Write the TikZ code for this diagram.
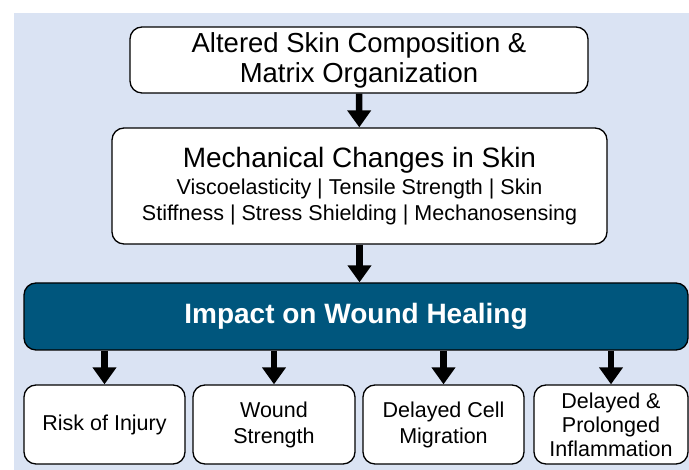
\documentclass[tikz,border=0pt]{standalone}
\usepackage{fontspec}
\setmainfont{Liberation Sans}
\usetikzlibrary{arrows.meta}
\definecolor{bgblue}{HTML}{DAE3F3}
\definecolor{bandblue}{HTML}{00567D}
\newcommand{\headfont}{\fontsize{28}{31}\selectfont}
\newcommand{\subfont}{\fontsize{21.5}{26}\selectfont}
\begin{document}
\begin{tikzpicture}[x=1pt,y=1pt,
  box/.style={draw=black,line width=1.3pt,fill=white,rounded corners=12pt,align=center,inner sep=0pt},
  band/.style={draw=black,line width=1.3pt,fill=bandblue,rounded corners=12pt,text=white,inner sep=0pt,font=\headfont\bfseries},
  flow/.style={line width=6.5pt,-{Triangle[width=23pt,length=17pt]}}]
\useasboundingbox (0,0) rectangle (689,470);
\fill[bgblue] (14,0) rectangle (689,457);
\node[box,minimum width=458pt,minimum height=66pt,font=\fontsize{27.5}{30}\selectfont] (comp) at (359,410)
  {Altered Skin Composition \&\\Matrix Organization};
\node[box,minimum width=495pt,minimum height=116pt] (mech) at (359.5,284)
  {\headfont Mechanical Changes in Skin\\[5pt]
   \subfont Viscoelasticity | Tensile Strength | Skin\\[4pt]
   \subfont Stiffness | Stress Shielding | Mechanosensing};
\node[band,minimum width=664pt,minimum height=67pt] (impact) at (356,153.5) {Impact on Wound Healing};
\node[box,minimum width=161pt,minimum height=79pt,font=\subfont] (injury) at (104.5,45.5) {Risk of Injury};
\node[box,minimum width=162pt,minimum height=79pt,font=\subfont] (strength) at (274,45.5) {Wound\\Strength};
\node[box,minimum width=161pt,minimum height=79pt,font=\subfont] (migration) at (443.5,45.5) {Delayed Cell\\Migration};
\node[box,minimum width=154pt,minimum height=79pt,font=\fontsize{21.5}{24}\selectfont] (inflam) at (611,45.5) {Delayed \&\\Prolonged\\Inflammation};
\draw[flow] (comp) -- (mech);
\draw[flow] (mech) -- (impact.north -| mech.south);
\foreach \n in {injury,strength,migration,inflam}
  \draw[flow] (impact.south -| \n.north) -- (\n.north);
\end{tikzpicture}
\end{document}
